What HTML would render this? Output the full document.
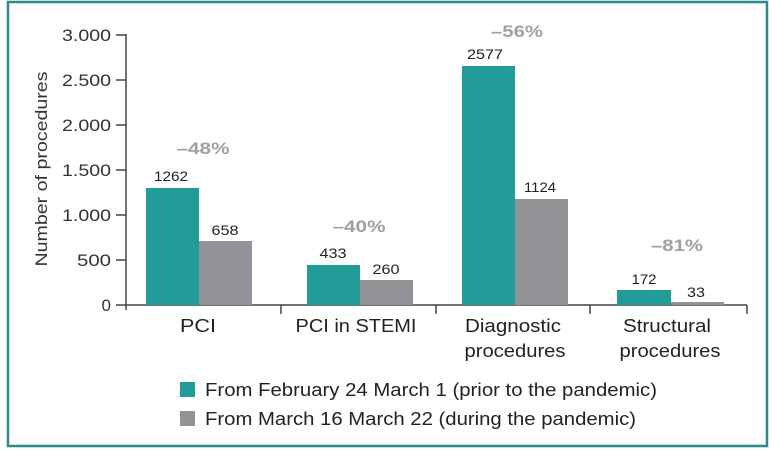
<!DOCTYPE html>
<html><head><style>
body{margin:0;background:#fff;}
svg{display:block;font-family:"Liberation Sans",Arial,sans-serif;}
</style></head><body>
<svg width="772" height="452" viewBox="0 0 772 452">
<rect x="8" y="2" width="759" height="444" fill="#fff" stroke="#2a8c8a" stroke-width="2.5"/>
<g fill="#333" font-size="17" text-anchor="end" lengthAdjust="spacingAndGlyphs">
<text x="111" y="41" textLength="49" lengthAdjust="spacingAndGlyphs">3.000</text>
<text x="111" y="86" textLength="49" lengthAdjust="spacingAndGlyphs">2.500</text>
<text x="111" y="131" textLength="49" lengthAdjust="spacingAndGlyphs">2.000</text>
<text x="111" y="176" textLength="49" lengthAdjust="spacingAndGlyphs">1.500</text>
<text x="111" y="221" textLength="49" lengthAdjust="spacingAndGlyphs">1.000</text>
<text x="111" y="266" textLength="34" lengthAdjust="spacingAndGlyphs">500</text>
<text x="111" y="311">0</text>
</g>
<g stroke="#444" stroke-width="1.5">
<line x1="126" y1="34" x2="126" y2="310"/>
<line x1="126" y1="305" x2="747" y2="305"/>
<line x1="116" y1="35" x2="126" y2="35"/><line x1="116" y1="80" x2="126" y2="80"/><line x1="116" y1="125" x2="126" y2="125"/>
<line x1="116" y1="170" x2="126" y2="170"/><line x1="116" y1="215" x2="126" y2="215"/><line x1="116" y1="260" x2="126" y2="260"/><line x1="116" y1="305" x2="126" y2="305"/>
<line x1="281" y1="305" x2="281" y2="314"/><line x1="436" y1="305" x2="436" y2="314"/><line x1="590" y1="305" x2="590" y2="314"/><line x1="747" y1="305" x2="747" y2="314"/>
</g>
<text transform="translate(47,169) rotate(-90)" text-anchor="middle" font-size="17" fill="#333" textLength="195" lengthAdjust="spacingAndGlyphs">Number of procedures</text>
<g fill="#229c98">
<rect x="146" y="188" width="53" height="117"/><rect x="307" y="265" width="53" height="40"/>
<rect x="462" y="66" width="53" height="239"/><rect x="617" y="290" width="54" height="15"/>
</g>
<g fill="#929396">
<rect x="199" y="241" width="53" height="64"/><rect x="360" y="280" width="53" height="25"/>
<rect x="515" y="199" width="53" height="106"/><rect x="671" y="302" width="53" height="3"/>
</g>
<g font-size="14" fill="#222" text-anchor="middle">
<text x="171" y="181" textLength="34" lengthAdjust="spacingAndGlyphs">1262</text><text x="225" y="235" textLength="27" lengthAdjust="spacingAndGlyphs">658</text>
<text x="333" y="258" textLength="27" lengthAdjust="spacingAndGlyphs">433</text><text x="386" y="274" textLength="27" lengthAdjust="spacingAndGlyphs">260</text>
<text x="485" y="59" textLength="36" lengthAdjust="spacingAndGlyphs">2577</text><text x="540" y="192" textLength="32" lengthAdjust="spacingAndGlyphs">1124</text>
<text x="644" y="284" textLength="25" lengthAdjust="spacingAndGlyphs">172</text><text x="696" y="297" textLength="18" lengthAdjust="spacingAndGlyphs">33</text>
</g>
<g font-size="17" font-weight="bold" fill="#a0a0a2" text-anchor="middle">
<text x="203" y="154" textLength="53" lengthAdjust="spacingAndGlyphs">–48%</text>
<text x="359" y="232" textLength="53" lengthAdjust="spacingAndGlyphs">–40%</text>
<text x="517" y="37" textLength="52" lengthAdjust="spacingAndGlyphs">–56%</text>
<text x="677" y="251" textLength="52" lengthAdjust="spacingAndGlyphs">–81%</text>
</g>
<g font-size="18" fill="#222" text-anchor="middle">
<text x="198" y="332" textLength="36" lengthAdjust="spacingAndGlyphs">PCI</text>
<text x="356" y="332" textLength="121" lengthAdjust="spacingAndGlyphs">PCI in STEMI</text>
<text x="513" y="332" textLength="96" lengthAdjust="spacingAndGlyphs">Diagnostic</text>
<text x="515" y="357" textLength="101" lengthAdjust="spacingAndGlyphs">procedures</text>
<text x="667" y="332" textLength="88" lengthAdjust="spacingAndGlyphs">Structural</text>
<text x="670" y="357" textLength="101" lengthAdjust="spacingAndGlyphs">procedures</text>
</g>
<rect x="180" y="382" width="15" height="15" fill="#229c98"/>
<rect x="180" y="411" width="15" height="15" fill="#929396"/>
<g font-size="18" fill="#222">
<text x="205" y="396" textLength="452" lengthAdjust="spacingAndGlyphs">From February 24 March 1 (prior to the pandemic)</text>
<text x="205" y="425" textLength="431" lengthAdjust="spacingAndGlyphs">From March 16 March 22 (during the pandemic)</text>
</g>
</svg>
</body></html>
